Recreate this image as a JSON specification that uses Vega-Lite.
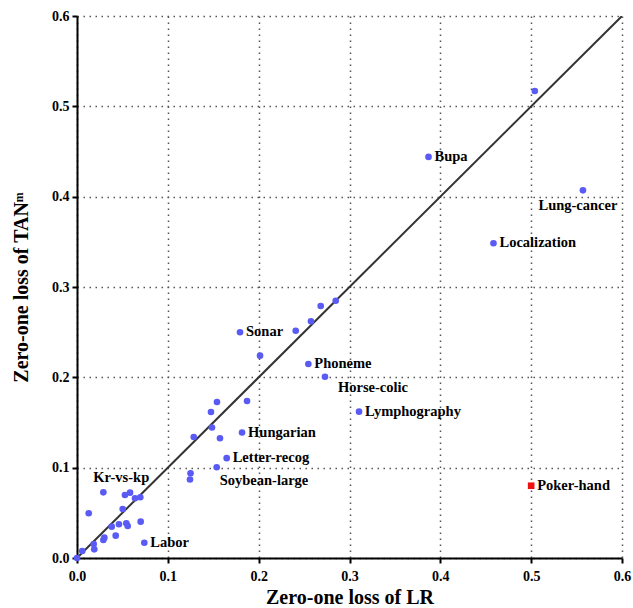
{
  "$schema": "https://vega.github.io/schema/vega-lite/v6.json",
  "width": 545,
  "height": 542,
  "autosize": {"type": "none"},
  "padding": {"left": 77, "top": 16, "right": 11, "bottom": 50},
  "config": {
    "view": {"stroke": null},
    "font": "Liberation Serif",
    "axis": {
      "labelFont": "Liberation Serif",
      "labelFontWeight": "bold",
      "labelFontSize": 14,
      "labelColor": "#000",
      "titleFont": "Liberation Serif",
      "titleFontWeight": "bold",
      "titleFontSize": 20,
      "titleColor": "#000",
      "domainColor": "#000",
      "domainWidth": 2,
      "tickColor": "#000",
      "tickWidth": 2,
      "tickSize": 5,
      "gridColor": "#555",
      "gridWidth": 1.5,
      "gridDash": [1.5, 4.5],
      "gridOpacity": 1
    }
  },
  "datasets": {
    "pts": [
      {"lr": 0.504, "tan": 0.517, "name": "", "kind": "normal"},
      {"lr": 0.387, "tan": 0.444, "name": "Bupa", "kind": "normal"},
      {"lr": 0.557, "tan": 0.407, "name": "Lung-cancer", "kind": "normal"},
      {"lr": 0.4585, "tan": 0.3484, "name": "Localization", "kind": "normal"},
      {"lr": 0.5, "tan": 0.08, "name": "Poker-hand", "kind": "highlight"},
      {"lr": 0.2848, "tan": 0.2848, "name": "", "kind": "normal"},
      {"lr": 0.2683, "tan": 0.279, "name": "", "kind": "normal"},
      {"lr": 0.2576, "tan": 0.262, "name": "", "kind": "normal"},
      {"lr": 0.2408, "tan": 0.2516, "name": "", "kind": "normal"},
      {"lr": 0.1795, "tan": 0.2499, "name": "Sonar", "kind": "normal"},
      {"lr": 0.2015, "tan": 0.224, "name": "", "kind": "normal"},
      {"lr": 0.2547, "tan": 0.2148, "name": "Phoneme", "kind": "normal"},
      {"lr": 0.273, "tan": 0.2007, "name": "Horse-colic", "kind": "normal"},
      {"lr": 0.3105, "tan": 0.162, "name": "Lymphography", "kind": "normal"},
      {"lr": 0.1541, "tan": 0.1727, "name": "", "kind": "normal"},
      {"lr": 0.1872, "tan": 0.1738, "name": "", "kind": "normal"},
      {"lr": 0.1475, "tan": 0.1616, "name": "", "kind": "normal"},
      {"lr": 0.1486, "tan": 0.1445, "name": "", "kind": "normal"},
      {"lr": 0.1285, "tan": 0.134, "name": "", "kind": "normal"},
      {"lr": 0.1574, "tan": 0.1326, "name": "", "kind": "normal"},
      {"lr": 0.1817, "tan": 0.1389, "name": "Hungarian", "kind": "normal"},
      {"lr": 0.1648, "tan": 0.1105, "name": "Letter-recog", "kind": "normal"},
      {"lr": 0.1538, "tan": 0.1004, "name": "Soybean-large", "kind": "normal"},
      {"lr": 0.125, "tan": 0.0938, "name": "", "kind": "normal"},
      {"lr": 0.1244, "tan": 0.0869, "name": "", "kind": "normal"},
      {"lr": 0.029, "tan": 0.0727, "name": "Kr-vs-kp", "kind": "normal"},
      {"lr": 0.0528, "tan": 0.0697, "name": "", "kind": "normal"},
      {"lr": 0.0584, "tan": 0.0723, "name": "", "kind": "normal"},
      {"lr": 0.0639, "tan": 0.0661, "name": "", "kind": "normal"},
      {"lr": 0.0697, "tan": 0.0672, "name": "", "kind": "normal"},
      {"lr": 0.0129, "tan": 0.0495, "name": "", "kind": "normal"},
      {"lr": 0.0503, "tan": 0.0542, "name": "", "kind": "normal"},
      {"lr": 0.0701, "tan": 0.0402, "name": "", "kind": "normal"},
      {"lr": 0.0462, "tan": 0.0373, "name": "", "kind": "normal"},
      {"lr": 0.0543, "tan": 0.0384, "name": "", "kind": "normal"},
      {"lr": 0.0558, "tan": 0.0354, "name": "", "kind": "normal"},
      {"lr": 0.0382, "tan": 0.0347, "name": "", "kind": "normal"},
      {"lr": 0.0426, "tan": 0.0247, "name": "", "kind": "normal"},
      {"lr": 0.0301, "tan": 0.0225, "name": "", "kind": "normal"},
      {"lr": 0.029, "tan": 0.0199, "name": "", "kind": "normal"},
      {"lr": 0.0184, "tan": 0.0155, "name": "", "kind": "normal"},
      {"lr": 0.019, "tan": 0.0096, "name": "", "kind": "normal"},
      {"lr": 0.0058, "tan": 0.0077, "name": "", "kind": "normal"},
      {"lr": 0.0, "tan": 0.0, "name": "", "kind": "normal"},
      {"lr": 0.0741, "tan": 0.0169, "name": "Labor", "kind": "normal"}
    ],
    "diag": [
      {"lr": 0, "tan": 0},
      {"lr": 0.6, "tan": 0.6}
    ]
  },
  "encoding": {
    "x": {
      "field": "lr", "type": "quantitative",
      "scale": {"domain": [0, 0.6], "nice": false, "zero": false},
      "axis": {
        "title": "Zero-one loss of LR",
        "values": [0, 0.1, 0.2, 0.3, 0.4, 0.5, 0.6],
        "format": ".1f",
        "labelPadding": 6,
        "titlePadding": 4,
        "labelFlush": false,
        "grid": true
      }
    },
    "y": {
      "field": "tan", "type": "quantitative",
      "scale": {"domain": [0, 0.6], "nice": false, "zero": false},
      "axis": {
        "title": "Zero-one loss of TANᵐ",
        "values": [0, 0.1, 0.2, 0.3, 0.4, 0.5, 0.6],
        "format": ".1f",
        "labelPadding": 3,
        "titlePadding": 20,
        "labelFlush": false,
        "grid": true
      }
    }
  },
  "layer": [
    {
      "data": {"name": "diag"},
      "mark": {"type": "line", "color": "#333", "strokeWidth": 2, "clip": true},
      "encoding": {}
    },
    {
      "data": {"name": "pts"},
      "mark": {"type": "point", "filled": true, "opacity": 1, "size": 44},
      "encoding": {
        "color": {"field": "kind", "type": "nominal", "scale": {"domain": ["normal", "highlight"], "range": ["#5a5af5", "#ee1111"]}, "legend": null},
        "shape": {"field": "kind", "type": "nominal", "scale": {"domain": ["normal", "highlight"], "range": ["circle", "square"]}, "legend": null}
      }
    },
    {
      "data": {"name": "pts"},
      "transform": [{"filter": {"field": "name", "oneOf": ["Bupa", "Localization", "Sonar", "Phoneme", "Lymphography", "Hungarian", "Letter-recog", "Labor", "Poker-hand"]}}],
      "mark": {"type": "text", "align": "left", "baseline": "middle", "dx": 6, "font": "Liberation Serif", "fontWeight": "bold", "fontSize": 14.5, "color": "#000"},
      "encoding": {"text": {"field": "name"}}
    },
    {
      "data": {"name": "pts"},
      "transform": [{"filter": {"field": "name", "equal": "Lung-cancer"}}],
      "mark": {"type": "text", "align": "center", "baseline": "middle", "dx": -5, "dy": 16, "font": "Liberation Serif", "fontWeight": "bold", "fontSize": 14.5, "color": "#000"},
      "encoding": {"text": {"field": "name"}}
    },
    {
      "data": {"name": "pts"},
      "transform": [{"filter": {"field": "name", "equal": "Horse-colic"}}],
      "mark": {"type": "text", "align": "left", "baseline": "middle", "dx": 13, "dy": 11, "font": "Liberation Serif", "fontWeight": "bold", "fontSize": 14.5, "color": "#000"},
      "encoding": {"text": {"field": "name"}}
    },
    {
      "data": {"name": "pts"},
      "transform": [{"filter": {"field": "name", "equal": "Soybean-large"}}],
      "mark": {"type": "text", "align": "left", "baseline": "middle", "dx": 3, "dy": 14, "font": "Liberation Serif", "fontWeight": "bold", "fontSize": 14.5, "color": "#000"},
      "encoding": {"text": {"field": "name"}}
    },
    {
      "data": {"name": "pts"},
      "transform": [{"filter": {"field": "name", "equal": "Kr-vs-kp"}}],
      "mark": {"type": "text", "align": "left", "baseline": "middle", "dx": -10, "dy": -14, "font": "Liberation Serif", "fontWeight": "bold", "fontSize": 14.5, "color": "#000"},
      "encoding": {"text": {"field": "name"}}
    }
  ]
}
